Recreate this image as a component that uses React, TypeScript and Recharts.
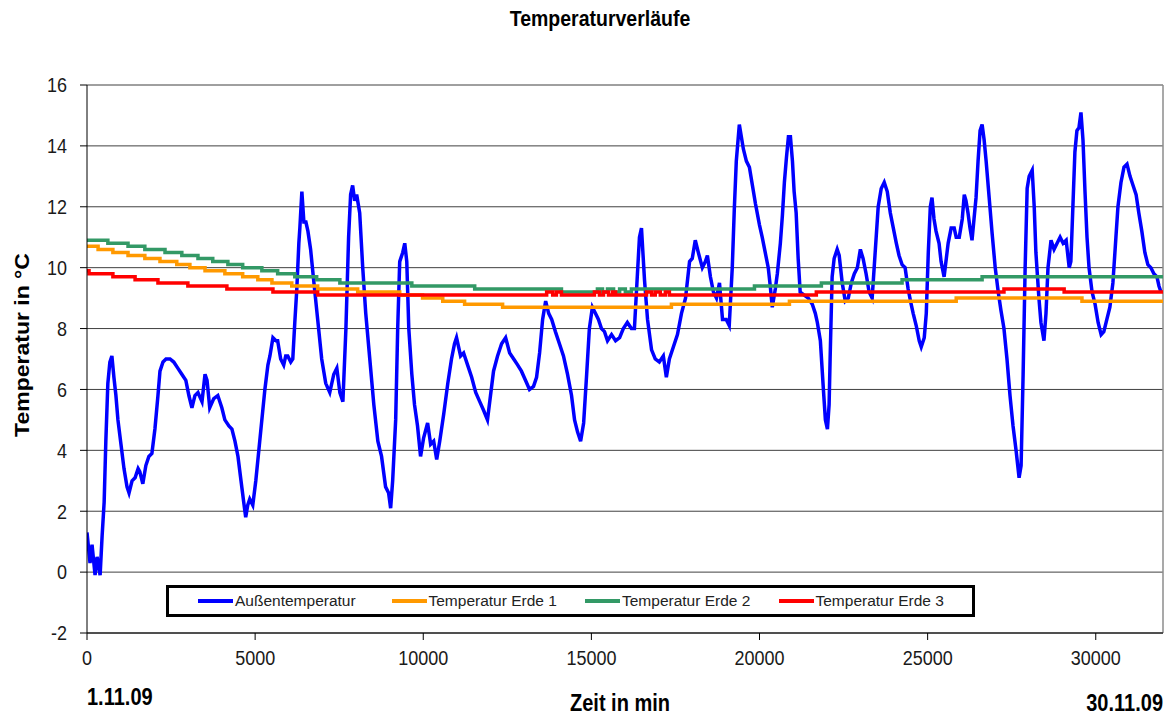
import React from 'react'
import {
  LineChart,
  Line,
  XAxis,
  YAxis,
  CartesianGrid,
  ReferenceLine,
} from 'recharts'

// Außentemperatur: Zeit in min / Temperatur in °C
const zeitAussen = [
  0, 90, 150, 240, 300, 390, 450, 510, 560, 620, 680, 740, 800, 860, 920, 1010, 1100, 1190, 1250, 1340,
  1430, 1520, 1570, 1660, 1750, 1840, 1930, 2020, 2110, 2170, 2260, 2350, 2470, 2580, 2700, 2820, 2940, 3030, 3120, 3210,
  3300, 3420, 3510, 3570, 3650, 3770, 3890, 4010, 4100, 4220, 4310, 4400, 4490, 4580, 4660, 4720, 4780, 4840, 4930, 5020,
  5110, 5200, 5290, 5380, 5440, 5530, 5620, 5670, 5760, 5850, 5910, 5970, 6060, 6120, 6180, 6240, 6300, 6330, 6390, 6450,
  6510, 6570, 6650, 6740, 6860, 6980, 7100, 7220, 7340, 7430, 7520, 7610, 7700, 7780, 7840, 7900, 7960, 8020, 8110, 8200,
  8290, 8410, 8530, 8650, 8760, 8880, 8970, 9030, 9090, 9180, 9240, 9300, 9390, 9450, 9510, 9570, 9660, 9740, 9830, 9920,
  10010, 10130, 10220, 10310, 10400, 10490, 10610, 10730, 10840, 10930, 10990, 11110, 11200, 11320, 11440, 11560, 11680, 11800, 11910, 12000,
  12090, 12210, 12330, 12450, 12570, 12690, 12810, 12920, 13040, 13160, 13280, 13370, 13460, 13550, 13640, 13730, 13820, 13930, 14050, 14170,
  14290, 14410, 14500, 14590, 14680, 14770, 14860, 14940, 15030, 15120, 15210, 15300, 15390, 15480, 15600, 15720, 15840, 15950, 16070, 16190,
  16280, 16370, 16430, 16490, 16580, 16670, 16790, 16900, 17020, 17140, 17230, 17320, 17440, 17560, 17680, 17800, 17920, 18000, 18090, 18180,
  18300, 18390, 18450, 18540, 18630, 18720, 18810, 18900, 19010, 19100, 19190, 19250, 19310, 19400, 19460, 19520, 19610, 19700, 19790, 19880,
  20000, 20080, 20170, 20260, 20320, 20380, 20470, 20530, 20620, 20680, 20740, 20800, 20860, 20920, 20980, 21030, 21090, 21150, 21210, 21330,
  21450, 21570, 21660, 21720, 21810, 21900, 21960, 22020, 22070, 22100, 22160, 22220, 22310, 22370, 22460, 22550, 22640, 22730, 22820, 22910,
  23000, 23080, 23170, 23260, 23350, 23440, 23530, 23620, 23710, 23800, 23890, 23980, 24070, 24150, 24240, 24330, 24420, 24510, 24570, 24660,
  24750, 24810, 24900, 24960, 25020, 25080, 25130, 25190, 25250, 25340, 25400, 25490, 25610, 25700, 25790, 25850, 25940, 26030, 26090, 26140,
  26200, 26260, 26320, 26380, 26440, 26500, 26560, 26620, 26680, 26740, 26830, 26920, 27010, 27100, 27180, 27270, 27360, 27450, 27540, 27630,
  27720, 27780, 27840, 27900, 27960, 28020, 28110, 28170, 28220, 28310, 28370, 28460, 28520, 28580, 28670, 28760, 28850, 28940, 29030, 29120,
  29210, 29260, 29320, 29380, 29440, 29500, 29560, 29620, 29680, 29740, 29800, 29890, 29980, 30070, 30160, 30240, 30330, 30420, 30510, 30600,
  30660, 30750, 30840, 30930, 31020, 31110, 31200, 31280, 31370, 31460, 31550, 31640, 31730, 31820, 31880, 31940,
]
const aussen = [
  1.3, 0.3, 0.9, -0.1, 0.5, -0.1, 1.2, 2.3, 4.3, 6.2, 6.9, 7.1, 6.4, 5.8, 5.0, 4.2, 3.4, 2.8, 2.6, 3.0,
  3.1, 3.4, 3.3, 2.9, 3.5, 3.8, 3.9, 4.7, 5.8, 6.6, 6.9, 7.0, 7.0, 6.9, 6.7, 6.5, 6.3, 5.8, 5.4, 5.8,
  5.9, 5.6, 6.5, 6.3, 5.4, 5.7, 5.8, 5.4, 5.0, 4.8, 4.7, 4.3, 3.8, 3.0, 2.3, 1.8, 2.2, 2.4, 2.2, 3.0,
  4.0, 5.0, 6.0, 6.8, 7.1, 7.7, 7.6, 7.6, 7.0, 6.8, 7.1, 7.1, 6.9, 7.0, 8.2, 9.3, 10.8, 11.3, 12.5, 11.5,
  11.5, 11.2, 10.6, 9.6, 8.3, 7.0, 6.2, 5.9, 6.5, 6.7, 5.9, 5.6, 8.0, 11.0, 12.4, 12.7, 12.2, 12.4, 11.8, 10.0,
  8.5, 7.0, 5.5, 4.3, 3.8, 2.8, 2.6, 2.1, 3.0, 5.0, 8.0, 10.2, 10.5, 10.8, 10.2, 8.0, 6.5, 5.5, 4.8, 3.8,
  4.4, 4.9, 4.2, 4.3, 3.7, 4.3, 5.2, 6.2, 7.0, 7.5, 7.7, 7.1, 7.2, 6.8, 6.4, 5.9, 5.6, 5.3, 5.0, 5.8,
  6.6, 7.1, 7.5, 7.7, 7.2, 7.0, 6.8, 6.6, 6.3, 6.0, 6.1, 6.4, 7.2, 8.3, 8.9, 8.5, 8.3, 7.9, 7.5, 7.1,
  6.5, 5.8, 5.0, 4.6, 4.3, 4.9, 6.5, 8.0, 8.7, 8.5, 8.3, 8.0, 7.9, 7.6, 7.8, 7.6, 7.7, 8.0, 8.2, 8.0,
  8.0, 9.8, 11.0, 11.3, 9.6, 8.3, 7.3, 7.0, 6.9, 7.1, 6.4, 7.0, 7.4, 7.8, 8.5, 9.0, 10.2, 10.3, 10.9, 10.5,
  10.0, 10.2, 10.4, 9.7, 9.2, 9.0, 9.5, 8.3, 8.3, 8.1, 10.0, 11.9, 13.5, 14.7, 14.3, 13.9, 13.5, 13.3, 12.7, 12.1,
  11.4, 11.0, 10.5, 10.0, 9.4, 8.7, 9.3, 9.8, 10.8, 11.7, 12.8, 13.6, 14.3, 14.3, 13.5, 12.5, 11.8, 10.3, 9.2, 9.1,
  9.0, 8.8, 8.5, 8.2, 7.6, 6.0, 5.0, 4.7, 5.5, 7.0, 9.7, 10.3, 10.6, 10.4, 9.5, 8.9, 9.0, 9.5, 9.8, 10.0,
  10.6, 10.3, 9.8, 9.2, 9.0, 10.5, 12.0, 12.6, 12.8, 12.5, 11.8, 11.3, 10.8, 10.4, 10.1, 10.0, 9.3, 8.8, 8.5, 8.1,
  7.6, 7.4, 7.7, 8.5, 10.5, 12.0, 12.3, 11.6, 11.2, 10.8, 10.2, 9.7, 10.8, 11.3, 11.3, 11.0, 11.0, 11.6, 12.4, 12.2,
  11.8, 11.3, 10.9, 11.6, 12.3, 13.5, 14.5, 14.7, 14.2, 13.5, 12.3, 11.1, 10.0, 9.2, 8.6, 8.0, 7.0, 5.8, 4.8, 4.0,
  3.1, 3.5, 6.5, 10.0, 12.6, 13.0, 13.2, 12.0, 10.5, 9.0, 8.2, 7.6, 8.5, 10.0, 10.9, 10.6, 10.8, 11.0, 10.8, 10.9,
  10.0, 10.2, 12.0, 13.8, 14.5, 14.6, 15.1, 14.2, 12.5, 11.0, 10.0, 9.2, 8.8, 8.2, 7.8, 7.9, 8.3, 8.7, 9.5, 11.0,
  12.0, 12.8, 13.3, 13.4, 13.0, 12.7, 12.4, 11.8, 11.2, 10.5, 10.1, 10.0, 9.8, 9.7, 9.4, 9.2,
]

// Erdtemperaturen: Zeitpunkte der Stufen und Werte
const erde1Zeit = [0, 330, 770, 1220, 1720, 2170, 2670, 3060, 3510, 4100, 4630, 5080, 5500, 6090, 6860, 8050, 9300, 9980, 10580, 11230, 12360, 17380, 20890, 25850, 29590, 32000]
const erde1 = [10.7, 10.6, 10.5, 10.4, 10.3, 10.2, 10.1, 10.0, 9.9, 9.8, 9.7, 9.6, 9.5, 9.4, 9.3, 9.2, 9.1, 9.0, 8.9, 8.8, 8.7, 8.8, 8.9, 9.0, 8.9, 8.9]

const erde2Zeit = [0, 620, 1220, 1720, 2320, 2820, 3300, 3740, 4190, 4630, 5200, 5670, 6180, 6830, 7520, 9660, 11530, 14110, 15180, 15330, 15480, 15660, 15840, 16010, 16190, 19850, 21840, 24240, 26620, 32000]
const erde2 = [10.9, 10.8, 10.7, 10.6, 10.5, 10.4, 10.3, 10.2, 10.1, 10.0, 9.9, 9.8, 9.7, 9.6, 9.5, 9.4, 9.3, 9.2, 9.3, 9.2, 9.3, 9.2, 9.3, 9.2, 9.3, 9.4, 9.5, 9.6, 9.7, 9.7]

const erde3Zeit = [0, 60, 770, 1430, 2110, 3000, 4160, 5530, 6860, 13670, 13850, 13960, 14110, 15090, 15240, 15360, 15510, 15630, 15720, 16640, 16790, 16900, 17050, 17200, 17320, 21690, 27270, 29060, 32000]
const erde3 = [9.9, 9.8, 9.7, 9.6, 9.5, 9.4, 9.3, 9.2, 9.1, 9.2, 9.1, 9.2, 9.1, 9.2, 9.1, 9.2, 9.1, 9.2, 9.1, 9.2, 9.1, 9.2, 9.1, 9.2, 9.1, 9.2, 9.3, 9.2, 9.2]

const xTicks = [0, 5000, 10000, 15000, 20000, 25000, 30000]
const yTicks = [-2, 0, 2, 4, 6, 8, 10, 12, 14, 16]

const serien = [
  { name: 'Außentemperatur', color: '#0000FF' },
  { name: 'Temperatur Erde 1', color: '#FF9900' },
  { name: 'Temperatur Erde 2', color: '#339966' },
  { name: 'Temperatur Erde 3', color: '#FF0000' },
]

const toRows = (zeit: number[], werte: number[]) =>
  zeit.map((t, i) => ({ t, v: werte[i] }))

const FONT = '"Liberation Sans", Arial, sans-serif'
const STRETCH = 1.15

const XTick = ({ x, y, payload }: any) => (
  <g transform={`translate(${x},${y}) scale(1,${STRETCH})`}>
    <text x={0} y={0} dy="0.71em" textAnchor="middle" fontSize={18} fill="#1a1a1a" fontFamily={FONT}>
      {payload.value}
    </text>
  </g>
)

const YTick = ({ x, y, payload }: any) => (
  <g transform={`translate(${x},${y}) scale(1,${STRETCH})`}>
    <text x={0} y={0} dy="0.355em" textAnchor="end" fontSize={18} fill="#1a1a1a" fontFamily={FONT}>
      {payload.value}
    </text>
  </g>
)

function Legende() {
  return (
    <div
      style={{
        position: 'absolute',
        left: 166,
        top: 585,
        width: 809,
        height: 32,
        boxSizing: 'border-box',
        border: '3px solid #000',
        background: '#fff',
        display: 'flex',
        alignItems: 'center',
        paddingLeft: 29,
      }}
    >
      {serien.map((s) => (
        <div key={s.name} style={{ display: 'flex', alignItems: 'center', width: 196 }}>
          <div style={{ width: 35, height: 4, background: s.color }} />
          <span style={{ fontSize: 15.5, color: '#222', marginLeft: 2, whiteSpace: 'nowrap' }}>{s.name}</span>
        </div>
      ))}
    </div>
  )
}

export default function App() {
  const stretchY = `scaleY(${STRETCH})`
  return (
    <div
      style={{
        position: 'absolute',
        left: 0,
        top: 0,
        width: 1172,
        height: 717,
        background: '#fff',
        fontFamily: FONT,
      }}
    >
      <LineChart width={1172} height={717} margin={{ top: 85, right: 9, bottom: 0, left: 0 }}>
        <CartesianGrid horizontal vertical={false} stroke="#404040" />
        <XAxis
          dataKey="t"
          type="number"
          domain={[0, 32000]}
          ticks={xTicks}
          height={84}
          tickSize={7}
          tickMargin={10}
          stroke="#000"
          tick={<XTick />}
          allowDataOverflow
        />
        <YAxis
          type="number"
          domain={[-2, 16]}
          ticks={yTicks}
          width={87}
          tickSize={7}
          tickMargin={13}
          stroke="#000"
          tick={<YTick />}
          allowDataOverflow
        />
        <ReferenceLine x={32000} stroke="#8c8c8c" strokeWidth={1.5} />
        <Line
          data={toRows(zeitAussen, aussen)}
          dataKey="v"
          name={serien[0].name}
          type="linear"
          stroke={serien[0].color}
          strokeWidth={3.5}
          dot={false}
          isAnimationActive={false}
        />
        <Line
          data={toRows(erde1Zeit, erde1)}
          dataKey="v"
          name={serien[1].name}
          type="stepAfter"
          stroke={serien[1].color}
          strokeWidth={3.5}
          dot={false}
          isAnimationActive={false}
        />
        <Line
          data={toRows(erde2Zeit, erde2)}
          dataKey="v"
          name={serien[2].name}
          type="stepAfter"
          stroke={serien[2].color}
          strokeWidth={3.5}
          dot={false}
          isAnimationActive={false}
        />
        <Line
          data={toRows(erde3Zeit, erde3)}
          dataKey="v"
          name={serien[3].name}
          type="stepAfter"
          stroke={serien[3].color}
          strokeWidth={3.5}
          dot={false}
          isAnimationActive={false}
        />
      </LineChart>

      <div
        style={{
          position: 'absolute',
          left: 400,
          width: 400,
          top: 7,
          textAlign: 'center',
          fontWeight: 'bold',
          fontSize: 19.5,
          transform: stretchY,
        }}
      >
        Temperaturverläufe
      </div>

      <div
        style={{
          position: 'absolute',
          left: 22,
          top: 345,
          fontWeight: 'bold',
          fontSize: 20,
          whiteSpace: 'nowrap',
          transform: `translate(-50%, -50%) rotate(-90deg) scaleX(${STRETCH})`,
        }}
      >
        Temperatur in °C
      </div>

      <div style={{ position: 'absolute', left: 87, top: 686, fontWeight: 'bold', fontSize: 20, transform: stretchY }}>
        1.11.09
      </div>
      <div
        style={{
          position: 'absolute',
          left: 470,
          width: 300,
          top: 692,
          textAlign: 'center',
          fontWeight: 'bold',
          fontSize: 20,
          transform: stretchY,
        }}
      >
        Zeit in min
      </div>
      <div style={{ position: 'absolute', right: 9, top: 692, fontWeight: 'bold', fontSize: 20, transform: stretchY }}>
        30.11.09
      </div>

      <Legende />
    </div>
  )
}
